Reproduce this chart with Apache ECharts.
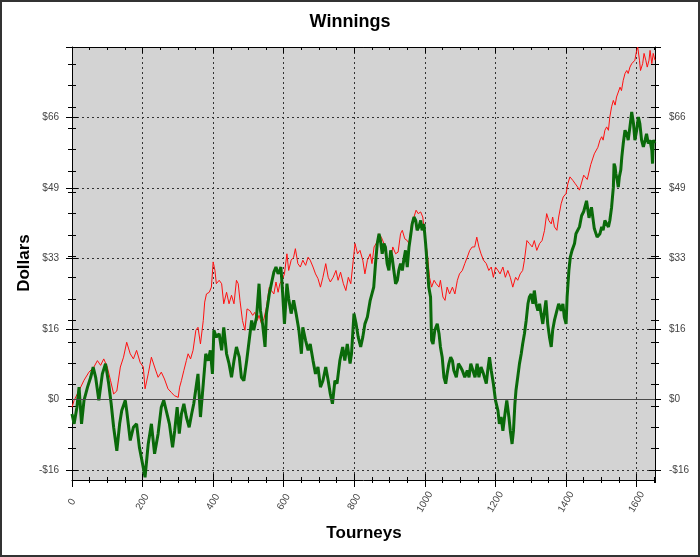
<!DOCTYPE html>
<html>
<head>
<meta charset="utf-8">
<title>Winnings</title>
<script src="https://cdn.jsdelivr.net/npm/echarts@6/dist/echarts.min.js"></script>
<style>
html, body { margin: 0; padding: 0; background: #fff; }
#chart { width: 700px; height: 557px; }
</style>
</head>
<body>
<div id="chart"></div>
<script>
// red curve (thin)
const redTourney = [0,6,20,34,48,62,72,81,90,100,109,118,127,137,146,155,165,174,183,193,202,207,216,225,234,244,253,262,272,281,290,301,305,310,317,324,329,336,343,351,357,364,372,376,381,389,395,400,405,409,417,424,430,438,445,452,459,466,471,476,483,490,496,504,512,518,525,530,537,544,551,559,565,572,578,584,589,595,602,609,614,621,628,633,640,647,654,662,669,675,683,690,697,704,711,719,726,732,740,748,754,761,769,776,783,790,797,802,809,816,824,830,837,845,850,856,864,870,877,884,890,896,903,909,917,924,931,936,943,950,955,962,969,975,981,988,994,1000,1007,1013,1019,1026,1032,1040,1044,1051,1057,1063,1070,1078,1085,1092,1098,1106,1113,1120,1127,1134,1141,1147,1153,1159,1166,1174,1181,1188,1194,1200,1207,1213,1221,1228,1235,1242,1249,1257,1263,1270,1277,1282,1289,1296,1304,1310,1317,1325,1332,1339,1345,1351,1358,1362,1367,1374,1379,1386,1392,1400,1405,1411,1419,1426,1433,1438,1450,1460,1470,1480,1490,1496,1501,1505,1510,1515,1520,1524,1529,1534,1539,1543,1548,1553,1557,1562,1567,1572,1576,1581,1586,1591,1595,1600,1603,1608,1611,1617,1621,1626,1630,1635,1638,1643,1647,1652]
const redDollars = [-1.8,-0.2,2.1,4.5,6.4,7.6,9.1,8.0,9.5,7.6,4.5,1.3,2.0,7.6,9.9,13.4,10.7,9.5,11.5,8.7,7.6,2.5,6.0,9.9,7.6,5.2,6.4,4.8,2.5,1.7,0.9,0.5,2.9,4.4,6.8,9.1,10.7,9.5,11.5,16.2,16.9,13.0,18.5,22.8,24.7,25.1,26.3,32.2,30.2,27.1,27.9,27.1,22.4,25.1,22.4,24.4,22.4,27.9,27.1,23.2,18.5,16.2,21.2,20.8,19.7,20.4,18.5,19.7,17.7,18.9,21.6,26.3,25.5,24.7,27.5,25.1,27.1,27.9,29.4,34.1,30.2,32.6,33.3,35.3,31.8,31.0,32.6,31.4,33.3,32.6,31.0,29.4,28.3,26.3,28.6,31.8,28.6,27.5,28.6,30.2,27.9,29.8,27.1,25.5,28.6,27.1,32.6,36.5,34.1,34.9,32.6,29.4,32.6,34.1,31.8,35.7,36.8,38.8,37.9,36.5,33.3,31.0,32.6,35.7,34.1,34.5,38.8,39.6,37.6,37.2,36.5,41.1,42.7,44.3,43.5,43.9,42.7,38.0,34.1,28.6,26.3,27.9,27.1,26.3,27.9,24.0,23.2,26.3,24.7,26.3,24.7,27.9,29.4,30.2,31.8,33.3,34.9,35.7,35.7,38.0,35.7,34.1,32.6,31.8,30.2,31.0,28.6,31.0,30.2,29.4,31.0,28.6,30.2,28.6,26.3,28.6,27.9,29.4,30.2,32.6,37.2,36.5,35.7,37.2,34.9,36.5,37.2,39.6,43.5,41.9,41.1,42.7,40.4,39.6,42.7,45.8,47.4,48.2,50.5,52.1,51.3,50.5,49.7,49.0,52.5,51.5,55.0,57.5,59.0,60.7,61.5,60.7,63.0,63.8,63.0,66.1,68.5,70.0,68.9,70.8,70.4,73.1,72.3,74.7,76.3,77.0,76.3,77.8,78.6,78.2,79.4,81.7,82.5,79.4,77.0,78.6,81.0,79.4,77.8,79.4,81.7,78.6,81.0,79.4]

// green curve (thick)
const greenTourney = [0,6,14,20,27,34,44,53,60,67,76,86,95,104,111,118,127,135,141,151,155,165,174,183,191,200,207,216,225,234,244,253,260,267,276,285,291,298,304,310,317,324,332,339,345,353,357,364,372,379,386,392,398,402,409,417,424,430,438,445,452,459,466,474,480,487,495,502,509,515,523,530,534,540,547,551,559,565,572,578,584,589,592,597,602,609,614,621,628,635,643,650,654,662,669,675,683,690,697,704,711,719,726,732,738,745,751,759,767,773,780,788,792,799,805,811,818,824,830,837,845,855,860,865,870,874,879,884,888,893,898,903,907,912,917,922,926,931,936,940,945,950,955,959,964,969,974,978,983,988,992,997,1002,1007,1011,1016,1019,1023,1028,1035,1040,1044,1049,1054,1059,1063,1068,1073,1078,1082,1089,1095,1101,1106,1113,1120,1125,1130,1136,1142,1148,1153,1159,1166,1174,1178,1183,1188,1194,1200,1207,1211,1216,1221,1228,1232,1238,1242,1247,1251,1255,1258,1263,1268,1273,1277,1282,1287,1292,1296,1301,1306,1310,1315,1320,1325,1329,1334,1339,1343,1348,1353,1358,1362,1367,1374,1379,1386,1391,1395,1400,1403,1408,1412,1417,1424,1428,1433,1438,1444,1450,1458,1465,1472,1480,1488,1496,1501,1505,1510,1515,1520,1524,1529,1534,1536,1539,1541,1545,1548,1551,1555,1558,1562,1567,1572,1576,1581,1586,1591,1595,1600,1605,1609,1614,1619,1624,1628,1633,1638,1643,1645,1647,1652]
const greenDollars = [-3.4,-5.7,-1.8,2.9,-5.7,-0.2,2.9,5.2,7.6,5.2,-0.2,6.0,8.4,3.7,-1.0,-6.5,-12.0,-5.7,-2.6,-0.2,-2.6,-9.6,-6.5,-5.7,-11.2,-15.1,-18.2,-10.4,-5.7,-12.7,-8.0,-1.8,-0.2,-2.6,-5.7,-11.2,-7.3,-1.8,-8.0,-3.4,-1.0,-4.1,-6.5,-3.4,-1.0,3.7,6.0,-4.1,3.7,10.7,9.1,11.5,6.0,16.2,14.6,15.4,11.5,16.9,10.7,8.4,5.2,9.1,12.3,9.9,5.2,4.4,9.1,13.8,18.5,16.2,19.3,27.1,20.8,17.7,12.3,20.1,24.7,27.1,29.8,31.0,29.4,30.2,31.0,24.7,17.7,27.1,23.6,20.1,23.2,20.1,16.2,10.7,16.9,13.8,11.5,13.0,9.1,6.0,7.6,2.9,4.4,7.6,4.4,1.3,-1.0,4.4,3.7,9.1,12.3,9.1,13.0,8.4,10.7,20.1,17.7,14.6,12.3,14.6,17.7,19.3,23.2,26.3,31.8,36.5,38.8,37.2,34.1,36.5,35.7,31.8,30.2,34.9,33.3,30.2,27.1,27.9,30.2,31.8,30.2,32.6,34.9,31.0,35.7,38.0,41.1,42.7,41.9,39.6,40.4,41.9,39.6,41.1,36.5,31.0,26.3,24.0,13.8,13.0,16.2,17.7,15.4,12.3,9.9,5.2,3.7,6.0,8.4,9.9,9.1,6.8,5.2,8.4,7.6,6.8,5.2,6.8,5.2,8.4,6.8,5.2,8.4,5.2,7.6,6.0,3.7,6.8,9.9,6.8,3.7,-0.2,-2.6,-5.7,-4.1,-7.3,-2.6,-0.2,-4.1,-7.3,-10.4,-7.3,-1.0,2.1,5.2,8.4,10.7,13.0,15.4,18.5,22.4,24.0,24.7,22.4,25.5,22.4,20.8,22.4,20.1,17.7,20.8,23.2,17.7,14.6,12.3,16.2,18.5,20.8,22.4,20.8,22.4,19.3,17.7,24.0,30.2,33.3,34.9,36.5,38.8,39.6,40.4,43.0,44.0,46.5,42.5,45.0,40.0,38.0,38.8,40.4,39.6,41.9,41.1,40.4,41.9,45.0,49.7,55.2,54.4,52.9,51.3,49.7,52.1,53.7,56.8,59.9,63.0,62.2,60.7,63.8,67.3,64.6,60.7,63.0,66.1,64.6,60.7,59.1,60.7,62.2,59.9,60.7,58.3,55.2,60.7,60.0]

const xMax = 1652
const yMin = -18.84
const yTop = 82.5

const chart = echarts.init(document.getElementById('chart'))

const dotted = { color: '#333', width: 1, type: [2, 3] }
const black = { color: '#000', width: 1 }

// plain tick-only x axis on the plot grid
const xTicks = (position, interval, len, inside, extra) => Object.assign({
  gridIndex: 0, type: 'value', position, min: 0, max: xMax, interval,
  axisLine: { show: false, onZero: false },
  axisTick: { show: true, inside, length: len, lineStyle: black },
  axisLabel: { show: false },
  splitLine: { show: false }
}, extra || {})

// tick-only y axis on the tick grid (from -16.5 so ticks land like the original)
const yTicks = (position, interval, len, inside, extra) => Object.assign({
  gridIndex: 1, type: 'value', position, min: -16.5, max: yTop, interval,
  axisLine: { show: false, onZero: false },
  axisTick: { show: true, inside, length: len, lineStyle: black },
  axisLabel: { show: false },
  splitLine: { show: false }
}, extra || {})

const dollarLabel = v => {
  if (v > 80) return ''
  return v < 0 ? '-$' + Math.trunc(-v) : '$' + Math.trunc(v)
}

chart.setOption({
  animation: false,
  backgroundColor: '#fff',
  grid: [
    { left: 72, right: 45, top: 47, bottom: 77, show: true, backgroundColor: '#d3d3d3', borderWidth: 0, outerBoundsMode: 'none' },
    { left: 72, right: 45, top: 47, bottom: 87, show: false, outerBoundsMode: 'none' }
  ],
  xAxis: [
    xTicks('bottom', 200, 7, false, {
      axisLine: { show: true, onZero: false, lineStyle: black },
      axisLabel: { show: true, formatter: v => String(v), rotate: 60, align: 'center', verticalAlign: 'middle', margin: 22, fontSize: 10, color: '#444', fontFamily: 'Liberation Sans', showMaxLabel: false },
      splitLine: { show: true, lineStyle: dotted }
    }),
    xTicks('bottom', 200, 6, true),
    xTicks('bottom', 50, 3, false),
    xTicks('bottom', 50, 3, true),
    xTicks('top', 200, 6, true, { axisLine: { show: true, onZero: false, lineStyle: black } }),
    xTicks('top', 50, 3, true),
    { gridIndex: 1, type: 'value', show: false, min: 0, max: 1 }
  ],
  yAxis: [
    { gridIndex: 0, type: 'value', position: 'left', min: yMin, max: yTop,
      axisLine: { show: true, onZero: false, lineStyle: black }, axisTick: { show: false }, axisLabel: { show: false }, splitLine: { show: false } },
    { gridIndex: 0, type: 'value', position: 'right', min: yMin, max: yTop,
      axisLine: { show: true, onZero: false, lineStyle: black }, axisTick: { show: false }, axisLabel: { show: false }, splitLine: { show: false } },
    yTicks('left', 16.5, 6, false, {
      axisLabel: { show: true, formatter: dollarLabel, margin: 13, fontSize: 10, color: '#444', fontFamily: 'Liberation Sans' },
      splitLine: { show: true, lineStyle: dotted }
    }),
    yTicks('left', 16.5, 6, true),
    yTicks('right', 16.5, 6, false, {
      axisLabel: { show: true, formatter: dollarLabel, margin: 14, fontSize: 10, color: '#444', fontFamily: 'Liberation Sans' }
    }),
    yTicks('right', 16.5, 6, true),
    yTicks('left', 5, 4, false),
    yTicks('left', 5, 4, true),
    yTicks('right', 5, 4, false),
    yTicks('right', 5, 4, true)
  ],
  graphic: [
    { type: 'text', x: 350, y: 22, style: { text: 'Winnings', fontSize: 18, fontWeight: 'bold', fontFamily: 'Liberation Sans', fill: '#000', align: 'center', verticalAlign: 'middle' } },
    { type: 'text', x: 24, y: 263, rotation: Math.PI / 2, style: { text: 'Dollars', fontSize: 17, fontWeight: 'bold', fontFamily: 'Liberation Sans', fill: '#000', align: 'center', verticalAlign: 'middle' } },
    { type: 'text', x: 364, y: 533, style: { text: 'Tourneys', fontSize: 17, fontWeight: 'bold', fontFamily: 'Liberation Sans', fill: '#000', align: 'center', verticalAlign: 'middle' } },
    { type: 'rect', shape: { x: 1, y: 1, width: 698, height: 555 }, style: { fill: 'none', stroke: '#333', lineWidth: 2 }, silent: true }
  ],
  series: [
    {
      name: 'red', type: 'line', xAxisIndex: 0, yAxisIndex: 0, z: 2,
      data: redTourney.map((t, i) => [t, redDollars[i]]),
      showSymbol: false, lineStyle: { color: '#ff1010', width: 1 },
      markLine: {
        silent: true, symbol: ['none', 'none'], label: { show: false },
        lineStyle: { color: '#4a4a4a', width: 1.2, type: 'solid' },
        data: [{ yAxis: 0 }]
      }
    },
    {
      name: 'green', type: 'line', xAxisIndex: 0, yAxisIndex: 0, z: 3,
      data: greenTourney.map((t, i) => [t, greenDollars[i]]),
      showSymbol: false, lineStyle: { color: '#0a6a0a', width: 3 }
    }
  ]
})
</script>
</body>
</html>
